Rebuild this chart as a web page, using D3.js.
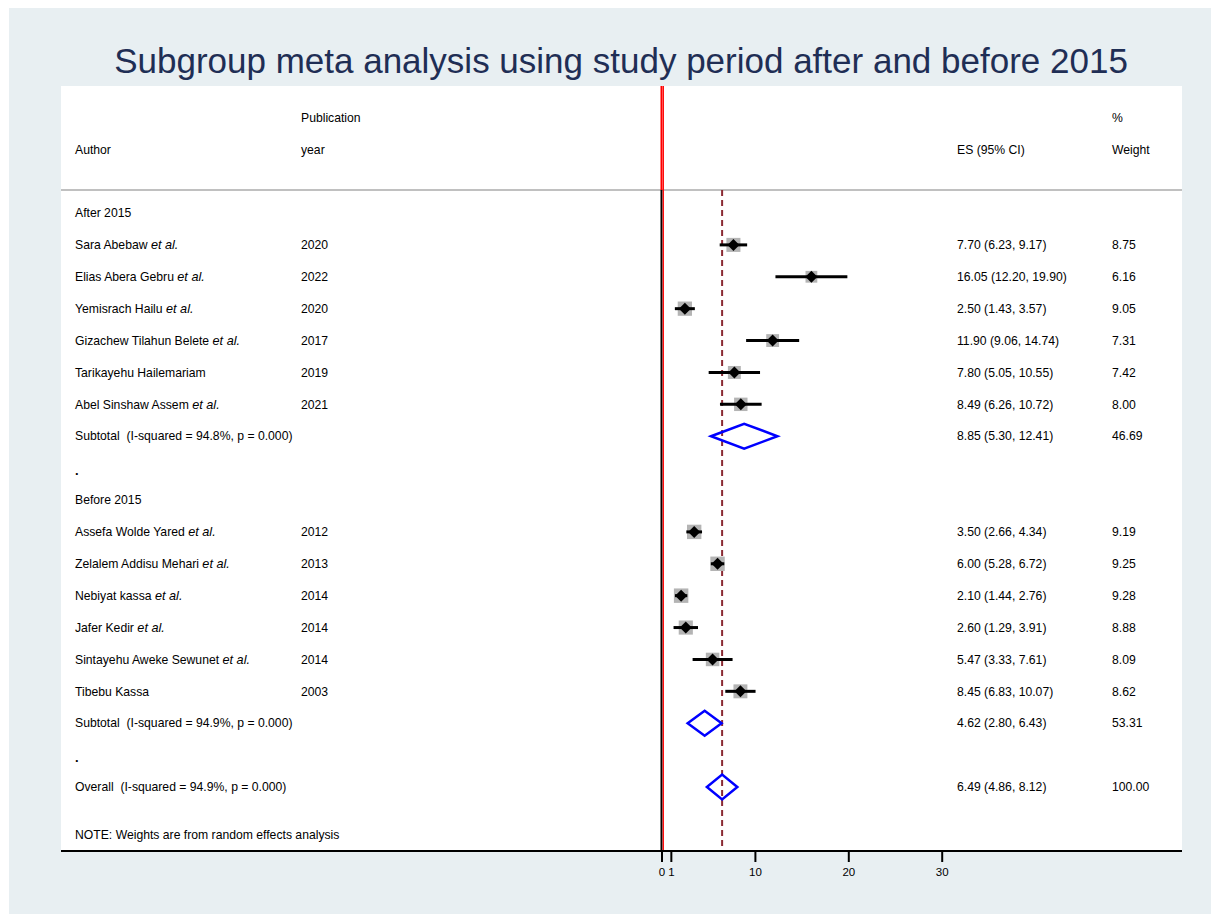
<!DOCTYPE html>
<html>
<head>
<meta charset="utf-8">
<script src="https://cdn.jsdelivr.net/npm/d3@7"></script>
<style>
  body { margin: 0; background: #fff; }
  svg text { font-family: "Liberation Sans", Arial, sans-serif; white-space: pre; }
</style>
</head>
<body>
<svg id="chart" width="1220" height="922"></svg>
<script>
// row labels (author text without "et al."), flags for italic "et al."
const authors = ["Sara Abebaw", "Elias Abera Gebru", "Yemisrach Hailu", "Gizachew Tilahun Belete",
  "Tarikayehu Hailemariam", "Abel Sinshaw Assem",
  "Assefa Wolde Yared", "Zelalem Addisu Mehari", "Nebiyat kassa", "Jafer Kedir",
  "Sintayehu Aweke Sewunet", "Tibebu Kassa"];
const etAl = [true, true, true, true, false, true, true, true, true, true, true, false];
const years = [2020, 2022, 2020, 2017, 2019, 2021, 2012, 2013, 2014, 2014, 2014, 2003];
const groups = ["After 2015", "After 2015", "After 2015", "After 2015", "After 2015", "After 2015",
  "Before 2015", "Before 2015", "Before 2015", "Before 2015", "Before 2015", "Before 2015"];
const es = [7.70, 16.05, 2.50, 11.90, 7.80, 8.49, 3.50, 6.00, 2.10, 2.60, 5.47, 8.45];
const lo = [6.23, 12.20, 1.43, 9.06, 5.05, 6.26, 2.66, 5.28, 1.44, 1.29, 3.33, 6.83];
const hi = [9.17, 19.90, 3.57, 14.74, 10.55, 10.72, 4.34, 6.72, 2.76, 3.91, 7.61, 10.07];
const weights = [8.75, 6.16, 9.05, 7.31, 7.42, 8.00, 9.19, 9.25, 9.28, 8.88, 8.09, 8.62];

// pooled estimates
const pooledLabels = ["Subtotal  (I-squared = 94.8%, p = 0.000)", "Subtotal  (I-squared = 94.9%, p = 0.000)",
  "Overall  (I-squared = 94.9%, p = 0.000)"];
const pooledEs = [8.85, 4.62, 6.49];
const pooledLo = [5.30, 2.80, 4.86];
const pooledHi = [12.41, 6.43, 8.12];
const pooledWeights = ["46.69", "53.31", "100.00"];

const xTicks = [0, 1, 10, 20, 30];
const groupNames = ["After 2015", "Before 2015"];

const W = 1220, H = 922;
const PANEL = { left: 61, right: 1182, top: 86, bottom: 851 };
const COL = { author: 75, year: 301, es: 957, weight: 1112 };
const HEADER_Y = 190;

const svg = d3.select('#chart');

// background + white plot area
svg.append('rect').attr('x', 9).attr('y', 8).attr('width', W - 18).attr('height', H - 16).attr('fill', '#e8eff2');
svg.append('rect').attr('x', PANEL.left).attr('y', PANEL.top)
  .attr('width', PANEL.right - PANEL.left).attr('height', PANEL.bottom - PANEL.top).attr('fill', '#fff');

svg.append('text')
  .attr('x', 621).attr('y', 73)
  .attr('text-anchor', 'middle')
  .attr('font-size', 35)
  .attr('fill', '#1f2e55')
  .text('Subgroup meta analysis using study period after and before 2015');

// build row layout: group heading, studies, subtotal, spacer
const rows = [];
groupNames.forEach((g, gi) => {
  rows.push({ type: 'group', label: g });
  groups.forEach((gg, i) => { if (gg === g) rows.push({ type: 'study', i }); });
  rows.push({ type: 'pooled', i: gi });
  rows.push({ type: 'spacer' });
});
rows.push({ type: 'pooled', i: 2 });

const x = d3.scaleLinear().domain([0, 30]).range([661.5, 941.7]);
const y = d3.scaleLinear().domain([0, rows.length - 1]).range([213, 787]);
const boxSize = d3.scaleSqrt().domain([0, 10]).range([0, 15]);

const FS = 12.2;
function txt(xx, yy, s, opts = {}) {
  return svg.append('text').attr('x', xx).attr('y', yy).attr('dy', '0.35em')
    .attr('font-size', opts.size || FS).attr('fill', '#000').text(s);
}

// header
txt(COL.year, 118, 'Publication');
txt(COL.author, 150, 'Author');
txt(COL.year, 150, 'year');
txt(COL.es, 150, 'ES (95% CI)');
txt(COL.weight, 118, '%');
txt(COL.weight, 150, 'Weight');
svg.append('line').attr('x1', PANEL.left).attr('x2', PANEL.right)
  .attr('y1', HEADER_Y).attr('y2', HEADER_Y).attr('stroke', '#c0c0c0').attr('stroke-width', 2);

// vertical reference lines
svg.append('line').attr('x1', x(0)).attr('x2', x(0))
  .attr('y1', HEADER_Y).attr('y2', PANEL.bottom).attr('stroke', '#000').attr('stroke-width', 2);
svg.append('line').attr('x1', x(0) + 1.8).attr('x2', x(0) + 1.8)
  .attr('y1', PANEL.top).attr('y2', PANEL.bottom).attr('stroke', '#ff0000').attr('stroke-width', 1.3);
svg.append('line').attr('x1', x(0)).attr('x2', x(0))
  .attr('y1', PANEL.top).attr('y2', HEADER_Y).attr('stroke', '#ff0000').attr('stroke-width', 2);
svg.append('line').attr('x1', x(pooledEs[2])).attr('x2', x(pooledEs[2]))
  .attr('y1', HEADER_Y).attr('y2', PANEL.bottom)
  .attr('stroke', '#8b2a33').attr('stroke-width', 2).attr('stroke-dasharray', '6,4');

rows.forEach((r, ri) => {
  const yy = y(ri);
  if (r.type === 'group') {
    txt(COL.author, yy, r.label);
  } else if (r.type === 'spacer') {
    txt(COL.author, yy + 2, '.', { size: 13 }).attr('font-weight', 'bold');
  } else if (r.type === 'study') {
    const i = r.i;
    const t = txt(COL.author, yy, authors[i]);
    if (etAl[i]) {
      t.append('tspan').text(' ');
      t.append('tspan').attr('font-style', 'italic').attr('font-size', FS + 0.5).text('et al.');
    }
    txt(COL.year, yy, years[i]);
    txt(COL.es, yy, `${es[i].toFixed(2)} (${lo[i].toFixed(2)}, ${hi[i].toFixed(2)})`);
    txt(COL.weight, yy, weights[i].toFixed(2));
    const s = boxSize(weights[i]);
    svg.append('rect').attr('x', x(es[i]) - s / 2).attr('y', yy - s / 2)
      .attr('width', s).attr('height', s).attr('fill', '#b4b4b4');
    svg.append('line').attr('x1', x(lo[i])).attr('x2', x(hi[i]))
      .attr('y1', yy).attr('y2', yy).attr('stroke', '#000').attr('stroke-width', 3);
    const d = 6;
    svg.append('path')
      .attr('d', `M${x(es[i]) - d},${yy}L${x(es[i])},${yy - d}L${x(es[i]) + d},${yy}L${x(es[i])},${yy + d}Z`)
      .attr('fill', '#000');
  } else if (r.type === 'pooled') {
    const i = r.i;
    txt(COL.author, yy, pooledLabels[i]);
    txt(COL.es, yy, `${pooledEs[i].toFixed(2)} (${pooledLo[i].toFixed(2)}, ${pooledHi[i].toFixed(2)})`);
    txt(COL.weight, yy, pooledWeights[i]);
    const h = 12.5;
    svg.append('path')
      .attr('d', `M${x(pooledLo[i])},${yy}L${x(pooledEs[i])},${yy - h}L${x(pooledHi[i])},${yy}L${x(pooledEs[i])},${yy + h}Z`)
      .attr('fill', 'none').attr('stroke', '#0000ff').attr('stroke-width', 2.5);
  }
});

txt(COL.author, 835, 'NOTE: Weights are from random effects analysis');

// x axis
svg.append('line').attr('x1', PANEL.left).attr('x2', PANEL.right)
  .attr('y1', PANEL.bottom).attr('y2', PANEL.bottom).attr('stroke', '#000').attr('stroke-width', 2);
const axis = d3.axisBottom(x).tickValues(xTicks).tickSize(11).tickPadding(6).tickFormat(d3.format('d'));
const ag = svg.append('g').attr('transform', `translate(0,${PANEL.bottom})`).call(axis);
ag.select('.domain').remove();
ag.selectAll('.tick line').attr('stroke', '#000').attr('stroke-width', 2);
ag.selectAll('.tick text').attr('font-size', 11.5).attr('fill', '#000')
  .attr('font-family', '"Liberation Sans", Arial, sans-serif');
</script>
</body>
</html>
